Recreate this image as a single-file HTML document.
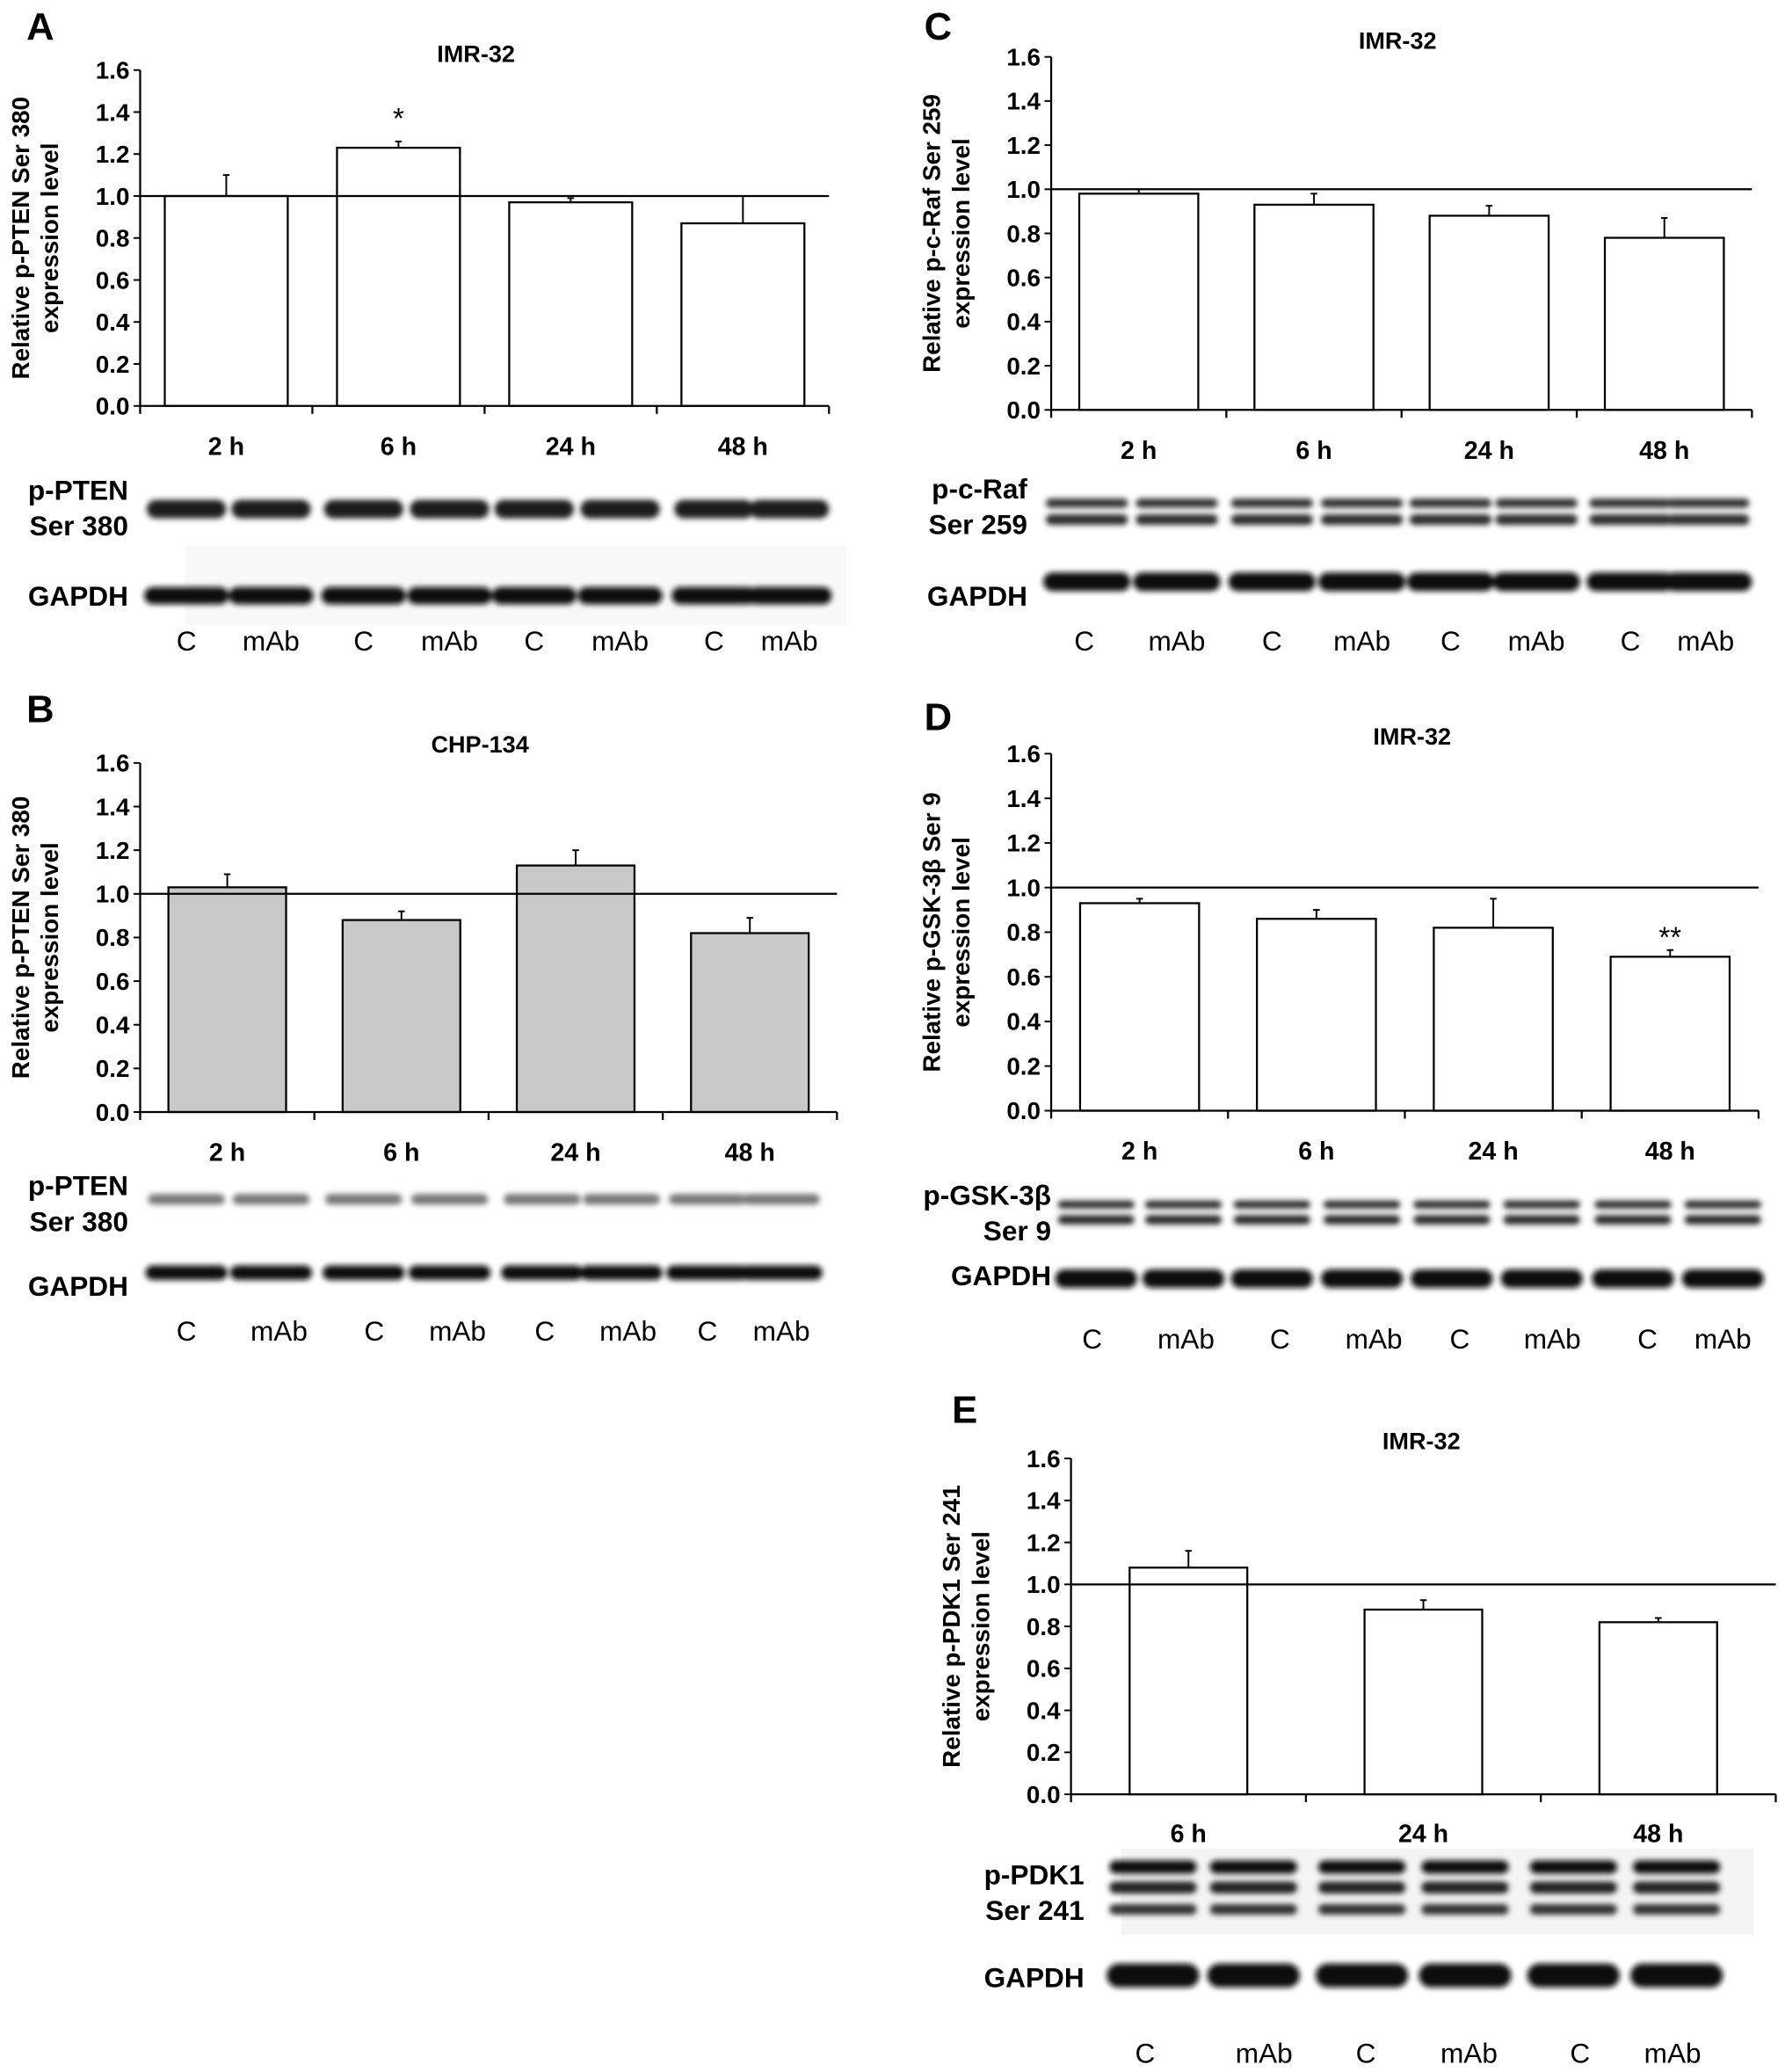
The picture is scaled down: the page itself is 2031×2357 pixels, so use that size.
<!DOCTYPE html>
<html><head><meta charset="utf-8">
<style>
html,body{margin:0;padding:0;background:#fff;}
svg{display:block;}
text{font-family:"Liberation Sans",Arial,sans-serif;}
.b{font-weight:bold;}
</style></head>
<body>
<svg id="fig" width="2031" height="2357" viewBox="0 0 1350 1567" preserveAspectRatio="none" xmlns="http://www.w3.org/2000/svg">
<defs>
<filter id="blur" x="-20%" y="-100%" width="140%" height="300%"><feGaussianBlur stdDeviation="2.2"/></filter>
</defs>
<g id="root"></g>
</svg>
<script>
// ===== Data arrays =====
const catsA = ["2 h","6 h","24 h","48 h"];
const valsA = [1.0, 1.23, 0.97, 0.87];
const errA  = [0.10, 0.03, 0.02, 0.13];
const catsB = ["2 h","6 h","24 h","48 h"];
const valsB = [1.03, 0.88, 1.13, 0.82];
const errB  = [0.06, 0.04, 0.07, 0.07];
const catsC = ["2 h","6 h","24 h","48 h"];
const valsC = [0.98, 0.93, 0.88, 0.78];
const errC  = [0.02, 0.05, 0.045, 0.09];
const catsD = ["2 h","6 h","24 h","48 h"];
const valsD = [0.93, 0.86, 0.82, 0.69];
const errD  = [0.02, 0.04, 0.13, 0.03];
const catsE = ["6 h","24 h","48 h"];
const valsE = [1.08, 0.88, 0.82];
const errE  = [0.08, 0.045, 0.02];
const yTicks = [0.0,0.2,0.4,0.6,0.8,1.0,1.2,1.4,1.6];
const laneLabels = ["C","mAb","C","mAb","C","mAb","C","mAb"];

const NS="http://www.w3.org/2000/svg";
const root=document.getElementById('root');
function mk(tag,attrs,parent,txt){const e=document.createElementNS(NS,tag);for(const k in attrs)e.setAttribute(k,attrs[k]);if(txt!==undefined)e.textContent=txt;(parent||root).appendChild(e);return e;}

function panel(cfg){
  const g=mk('g',{});
  
  
  const y=v=>cfg.y0-(v/1.6)*(cfg.y0-cfg.y16);
  const n=cfg.cats.length, cw=(cfg.x1-cfg.x0)/n;
  const xc=i=>cfg.x0+cw*(i+0.5);
  const L=mk('text',{x:cfg.lx,y:cfg.ly,'font-size':29,class:'b'},g,cfg.id);
  
  
  const T=mk('text',{x:cfg.tx,y:cfg.ty,'font-size':18,class:'b','text-anchor':'middle'},g,cfg.title);
  
  
  const ym=(cfg.y0+cfg.y16)/2;
  const yl=mk('text',{transform:`translate(${cfg.x0-84},${ym}) rotate(-90)`,'font-size':18.5,class:'b','text-anchor':'middle'},g);
  
  
  mk('tspan',{x:0,y:0},yl,cfg.ylab1);
  mk('tspan',{x:0,y:22},yl,'expression level');
  cfg.vals.forEach((v,i)=>{
    const bw=cfg.bw, bx=xc(i)-bw/2;
    const top=y(v+cfg.errs[i]);
    const el=mk('line',{x1:xc(i),x2:xc(i),y1:y(v),y2:top,stroke:'#000','stroke-width':1.3},g);
    
    
    mk('line',{x1:xc(i)-2.5,x2:xc(i)+2.5,y1:top,y2:top,stroke:'#000','stroke-width':1.3},g);
    const r=mk('rect',{x:bx,y:y(v),width:bw,height:cfg.y0-y(v),fill:cfg.fill,stroke:'#000','stroke-width':1.5},g);
    
    
    const c=mk('text',{x:xc(i)+cfg.catdx,y:cfg.caty,'font-size':19,class:'b','text-anchor':'middle'},g,cfg.cats[i]);
    
    
  });
  const rl=mk('line',{x1:cfg.x0,x2:cfg.x1,y1:y(1),y2:y(1),stroke:'#000','stroke-width':1.5},g);
  
  
  const ya=mk('line',{x1:cfg.x0,x2:cfg.x0,y1:cfg.y16,y2:cfg.y0+1,stroke:'#000','stroke-width':1.5},g);
  
  
  const xa=mk('line',{x1:cfg.x0,x2:cfg.x1,y1:cfg.y0,y2:cfg.y0,stroke:'#000','stroke-width':1.5},g);
  
  
  for(let i=0;i<=n;i++){const xx=cfg.x0+cw*i;mk('line',{x1:xx,x2:xx,y1:cfg.y0,y2:cfg.y0+6,stroke:'#000','stroke-width':1.5},g);}
  yTicks.forEach(t=>{
    mk('line',{x1:cfg.x0-5,x2:cfg.x0,y1:y(t),y2:y(t),stroke:'#000','stroke-width':1.3},g);
    const tl=mk('text',{x:cfg.x0-8,y:y(t)+6.5,'font-size':18.5,class:'b','text-anchor':'end'},g,t.toFixed(1));
    
    
  });
  if(cfg.star){const s=mk('text',{x:xc(cfg.star.i),y:y(cfg.vals[cfg.star.i]+cfg.errs[cfg.star.i])-cfg.star.dy,'font-size':22,'text-anchor':'middle'},g,cfg.star.t);
    
    }
  const bl=cfg.blot;
  if(bl.bg){mk('rect',{x:bl.bg[0],y:bl.bg[1],width:bl.bg[2],height:bl.bg[3],fill:bl.bgc||'#f4f4f4'},g);}
  bl.lab1.forEach((t,k)=>{const e=mk('text',{x:bl.labx,y:bl.laby1+k*27,'font-size':21,class:'b','text-anchor':'end'},g,t);
    
    });
  const ge=mk('text',{x:bl.labx,y:bl.laby2,'font-size':21,class:'b','text-anchor':'end'},g,'GAPDH');
  
  
  const bg=mk('g',{filter:'url(#blur)'},g);
  
  
  bl.lanes.forEach((lx,i)=>{
    bl.bands.forEach(b=>{mk('rect',{x:lx-bl.lw/2,y:b[0],width:bl.lw,height:b[1],rx:b[1]/2,fill:b[2]},bg);});
    mk('rect',{x:lx-bl.lw/2-2,y:bl.gy,width:bl.lw+4,height:bl.gh,rx:bl.gh/2,fill:'#111'},bg);
    const lt=mk('text',{x:bl.lanelab[i],y:bl.laney,'font-size':21,'text-anchor':'middle'},g,laneLabels[i]);
    
    
  });
}

panel({id:'A',title:'IMR-32',tx:360,ty:47,lx:20,ly:30,x0:106,x1:627,y0:307,y16:53,bw:93,fill:'#fff',
  cats:catsA,vals:valsA,errs:errA,caty:344,catdx:0,ylab1:'Relative p-PTEN Ser 380',star:{i:1,t:'*',dy:10},
  blot:{labx:97,laby1:378,laby2:458,lab1:['p-PTEN','Ser 380'],lanes:[141,205,275,340,404,469,540,597],lw:60,
    bands:[[378,14,'#1a1a1a']],gy:444,gh:13,lanelab:[141,205,275,340,404,469,540,597],laney:492,bg:[140,413,500,60],bgc:'#f8f8f8'}});
panel({id:'C',title:'IMR-32',tx:1057,ty:37,lx:699,ly:30,x0:795,x1:1325,y0:310,y16:43,bw:90,fill:'#fff',
  cats:catsC,vals:valsC,errs:errC,caty:347,catdx:0,ylab1:'Relative p-c-Raf Ser 259',
  blot:{labx:777,laby1:377,laby2:458,lab1:['p-c-Raf','Ser 259'],lanes:[822,890,962,1030,1097,1162,1233,1292],lw:62,
    bands:[[377,7,'#333'],[389,8,'#2a2a2a']],gy:433,gh:14,lanelab:[820,890,962,1030,1097,1162,1233,1290],laney:492}});
panel({id:'B',title:'CHP-134',tx:363,ty:569,lx:20,ly:546,x0:106,x1:633,y0:841,y16:577,bw:89,fill:'#c8c8c8',
  cats:catsB,vals:valsB,errs:errB,caty:878,catdx:0,ylab1:'Relative p-PTEN Ser 380',
  blot:{labx:97,laby1:904,laby2:980,lab1:['p-PTEN','Ser 380'],lanes:[141,205,275,340,410,470,535,591],lw:58,
    bands:[[903,8,'#777']],gy:957,gh:11,lanelab:[141,211,283,346,412,475,535,591],laney:1014}});
panel({id:'D',title:'IMR-32',tx:1068,ty:563,lx:699,ly:552,x0:795,x1:1330,y0:840,y16:570,bw:90,fill:'#fff',
  cats:catsD,vals:valsD,errs:errD,caty:877,catdx:0,ylab1:'Relative p-GSK-3β Ser 9',star:{i:3,t:'**',dy:2},
  blot:{labx:795,laby1:911,laby2:972,lab1:['p-GSK-3β','Ser 9'],lanes:[829,895,962,1030,1098,1166,1235,1303],lw:58,
    bands:[[908,6,'#2a2a2a'],[919,7,'#2a2a2a']],gy:960,gh:14,lanelab:[826,897,968,1039,1104,1174,1246,1303],laney:1020}});
panel({id:'E',title:'IMR-32',tx:1075,ty:1096,lx:720,ly:1076,x0:810,x1:1343,y0:1357,y16:1103,bw:89,fill:'#fff',
  cats:catsE,vals:valsE,errs:errE,caty:1393,catdx:0,ylab1:'Relative p-PDK1 Ser 241',
  blot:{labx:820,laby1:1425,laby2:1503,lab1:['p-PDK1','Ser 241'],lanes:[872,948,1030,1108,1190,1268],lw:66,
    bands:[[1407,10,'#111'],[1423,9,'#222'],[1440,8,'#333']],gy:1485,gh:18,lanelab:[866,956,1033,1111,1195,1265],laney:1560,bg:[848,1398,478,65]}});
</script>
</body></html>
